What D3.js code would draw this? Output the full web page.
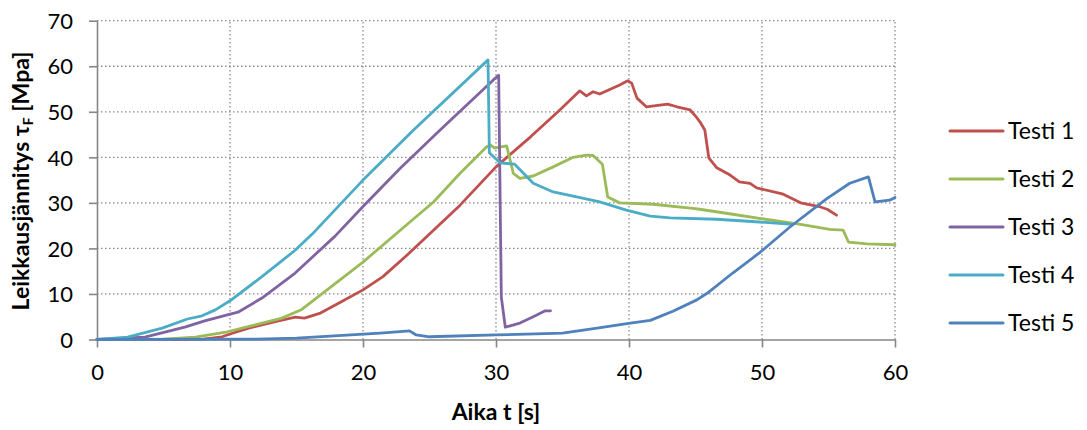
<!DOCTYPE html>
<html>
<head>
<meta charset="utf-8">
<script src="https://cdn.jsdelivr.net/npm/d3@7"></script>
<style>
  body { margin: 0; background: #fff; }
  svg { display: block; font-family: Lato, "Open Sans", sans-serif; }
</style>
</head>
<body>
<div id="chart"></div>
<script>
// values: [time s, stress MPa]
const testi1 = [[0,0],[8,0.1],[9.4,0.6],[10,1.2],[11.4,2.5],[13.4,3.9],[14.9,4.9],[15.6,4.7],[16.8,5.8],[18.3,8.2],[20,10.9],[21.5,13.8],[23.3,18.5],[25.3,24],[27.3,29.5],[30,37.9],[32.6,44.5],[34.8,50.4],[36.3,54.6],[36.8,53.5],[37.3,54.4],[37.8,53.9],[39.3,55.9],[39.9,56.8],[40.2,56.3],[40.6,53],[41.3,51.1],[42.9,51.7],[43.6,51.1],[44.6,50.4],[45.1,48.7],[45.4,47.5],[45.7,46],[46,39.9],[46.6,37.7],[47.6,36.1],[48.3,34.6],[49.1,34.3],[49.6,33.3],[51.6,31.9],[52.9,30],[54.4,29.1],[54.9,28.6],[55.6,27.3]];
const testi2 = [[0,0],[5,0.1],[7.4,0.5],[9.8,1.7],[11.9,3.2],[13.9,4.7],[15.4,6.6],[17.3,10.9],[20,17],[22.8,24],[25.3,30.2],[27.3,36.5],[29.3,42.3],[29.6,42.7],[29.9,42],[30.8,42.5],[31.3,36.5],[31.8,35.4],[32.8,35.9],[34.3,37.9],[35.8,40],[36.8,40.5],[37.3,40.4],[38,38.5],[38.4,31.3],[39.3,30],[41.8,29.7],[44.8,28.8],[45.3,28.6],[47.8,27.5],[49.8,26.6],[52.9,25.3],[55.1,24.2],[56.1,24],[56.5,21.4],[57.9,21],[60,20.8]];
const testi3 = [[0,0],[3.6,0.5],[6.6,2.7],[8.1,4.1],[9.8,5.4],[10.6,6],[12.4,9.1],[14.9,14.6],[17.9,22.7],[20,29.2],[22.8,37.6],[25.8,46],[29.8,57],[30.2,58],[30.4,9.3],[30.7,2.7],[31.8,3.6],[32.8,5],[33.7,6.3],[34.1,6.3]];
const testi4 = [[0,0],[2.3,0.5],[4.9,2.5],[6.8,4.5],[7.9,5.2],[8.9,6.5],[10,8.5],[12.4,13.8],[14.9,19.6],[16.2,23.2],[20,35],[23.8,46],[29.4,61.4],[29.5,41],[30.3,38.8],[31.4,38.5],[32.8,34.3],[34.3,32.4],[35.8,31.5],[37.8,30.2],[39.8,28.4],[41.6,27.1],[43.1,26.7],[46.6,26.4],[49.8,25.8],[52.3,25.3]];
const testi5 = [[0,0],[12,0.1],[15,0.3],[21.3,1.4],[23.5,1.9],[24,1],[25,0.6],[30,1],[35,1.4],[37.6,2.5],[40.1,3.6],[41.6,4.2],[43.3,6.2],[45.1,8.7],[45.9,10.2],[47.8,14.6],[49.8,19],[52.1,24.7],[54.9,31],[56.6,34.3],[58,35.7],[58.5,30.2],[59.6,30.6],[60,31.2]];

const seriesNames = ["Testi 1", "Testi 2", "Testi 3", "Testi 4", "Testi 5"];
const seriesColors = ["#C0504D", "#9BBB59", "#8064A2", "#4BACC6", "#4F81BD"];
const xTicks = [0, 10, 20, 30, 40, 50, 60];
const yTicks = [0, 10, 20, 30, 40, 50, 60, 70];

const allSeries = [testi1, testi2, testi3, testi4, testi5];

const width = 1087, height = 430;
const svg = d3.select("#chart").append("svg")
  .attr("width", width)
  .attr("height", height);

const xScale = d3.scaleLinear().domain([0, 60]).range([97, 895]);
const yScale = d3.scaleLinear().domain([0, 70]).range([339.5, 20.7]);

// grid
svg.append("g")
  .selectAll("line")
  .data(yTicks.slice(1))
  .join("line")
  .attr("x1", xScale(0)).attr("x2", xScale(60))
  .attr("y1", d => yScale(d)).attr("y2", d => yScale(d))
  .attr("stroke", "#8a8a8a")
  .attr("stroke-width", 1.3)
  .attr("stroke-dasharray", "1.5,2.5");

svg.append("g")
  .selectAll("line")
  .data(xTicks.slice(1))
  .join("line")
  .attr("x1", d => xScale(d)).attr("x2", d => xScale(d))
  .attr("y1", yScale(0)).attr("y2", yScale(70))
  .attr("stroke", "#8a8a8a")
  .attr("stroke-width", 1.3)
  .attr("stroke-dasharray", "1.5,2.5");

// axes
const xAxis = svg.append("g")
  .attr("transform", `translate(0,${yScale(0)})`)
  .call(d3.axisBottom(xScale).tickValues(xTicks).tickSize(8).tickPadding(17).tickSizeOuter(0));

const yAxis = svg.append("g")
  .attr("transform", `translate(${xScale(0)},0)`)
  .call(d3.axisLeft(yScale).tickValues(yTicks).tickSize(8).tickPadding(16).tickSizeOuter(0));

[xAxis, yAxis].forEach(a => {
  a.select(".domain").attr("stroke", "#868686").attr("stroke-width", 1.6);
  a.selectAll(".tick line").attr("stroke", "#868686").attr("stroke-width", 1.6);
  a.selectAll("text")
    .attr("fill", "#000")
    .style("font-family", "Lato, 'Open Sans', sans-serif")
    .style("font-size", "22px");
});
yAxis.selectAll("text").attr("dy", "0.35em");

// lines
const line = d3.line()
  .x(d => xScale(d[0]))
  .y(d => yScale(d[1]));

svg.append("g")
  .selectAll("path")
  .data(allSeries)
  .join("path")
  .attr("d", line)
  .attr("fill", "none")
  .attr("stroke", (d, i) => seriesColors[i])
  .attr("stroke-width", 2.8)
  .attr("stroke-linejoin", "round")
  .attr("stroke-linecap", "round");

// axis titles
svg.append("text")
  .attr("x", xScale(30))
  .attr("y", 420)
  .attr("text-anchor", "middle")
  .style("font-size", "23px")
  .style("font-weight", "bold")
  .text("Aika t [s]");

const yTitle = svg.append("text")
  .attr("transform", `translate(29,181) rotate(-90)`)
  .attr("text-anchor", "middle")
  .style("font-size", "23px")
  .style("font-weight", "bold");
yTitle.append("tspan").text("Leikkausjännitys τ");
yTitle.append("tspan").attr("dy", 4).style("font-size", "14px").text("F");
yTitle.append("tspan").attr("dy", -4).text(" [Mpa]");

// legend
const legend = svg.append("g")
  .selectAll("g")
  .data(seriesNames)
  .join("g")
  .attr("transform", (d, i) => `translate(950, ${131 + i * 48})`);

legend.append("line")
  .attr("x1", 0).attr("x2", 53)
  .attr("stroke", (d, i) => seriesColors[i])
  .attr("stroke-width", 3)
  .attr("stroke-linecap", "round");

legend.append("text")
  .attr("x", 58)
  .attr("dy", "0.35em")
  .style("font-size", "23px")
  .text(d => d);
</script>
</body>
</html>
